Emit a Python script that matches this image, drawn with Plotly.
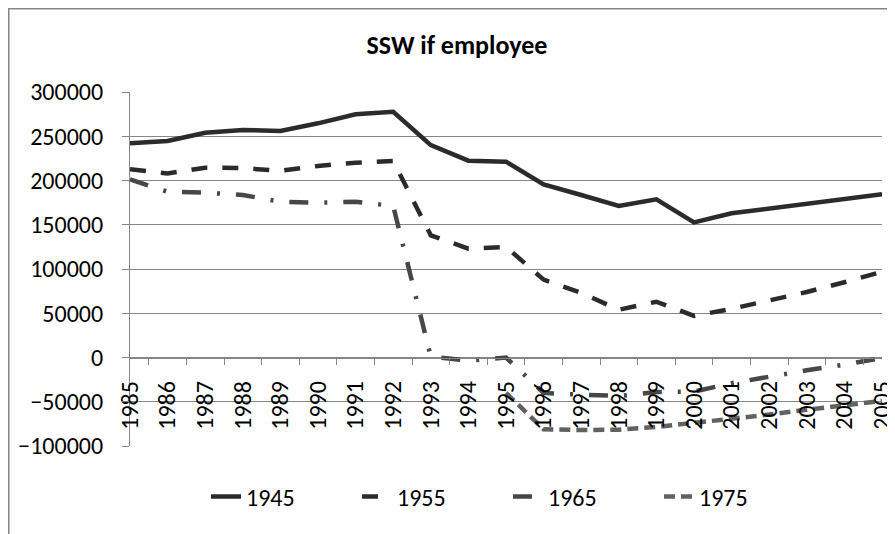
import plotly.graph_objects as go

years = [str(y) for y in range(1985, 2006)]
s1945 = [242000, 244600, 254000, 257000, 256000, 264600, 274800, 277700, 240000, 222400, 221300,
         195700, 183600, 171200, 178700, 152700, 162900, 168000, 173000, 179000, 184400]
s1955 = [212600, 208000, 214500, 214000, 211000, 216400, 220100, 222000, 138000, 123000, 125000,
         88000, 73000, 54000, 63000, 47000, 55000, 64000, 74000, 85000, 97000]
s1965 = [201300, 187300, 186200, 183600, 176000, 175000, 176000, 171200, 1000, -3500, 0,
         -40000, -42000, -43500, -39000, -38500, -29000, -21500, -14500, -8000, -500]
s1975 = [None, None, None, None, None, None, None, None, None, None, -40000,
         -81000, -82000, -81500, -78500, -74000, -69000, -64500, -59000, -54000, -49000]
series_names = ["1945", "1955", "1965", "1975"]
y_ticks = [-100000, -50000, 0, 50000, 100000, 150000, 200000, 250000, 300000]

FONT = "Carlito, Calibri, Lato, sans-serif"
styles = [
    dict(color="#2b2b2b", dash="solid"),
    dict(color="#2b2b2b", dash="16px,15px"),
    dict(color="#474747", dash="19px,16px,3px,16px"),
    dict(color="#616161", dash="11px,6px"),
]

# the page places the figure 8px in from the top-left corner of the window
OFF = 8
W, H = 895 - OFF, 534 - OFF
L, R, T, B = 130 - OFF, 13, 92 - OFF, 88
PW, PH = W - L - R, H - T - B

fig = go.Figure()
for name, vals, st in zip(series_names, [s1945, s1955, s1965, s1975], styles):
    fig.add_trace(go.Scatter(x=years, y=vals, name=name, mode="lines",
                             line=dict(color=st["color"], width=4.5, dash=st["dash"]),
                             connectgaps=False))

fig.update_layout(
    width=W, height=H,
    margin=dict(l=L, r=R, t=T, b=B, autoexpand=False),
    paper_bgcolor="white", plot_bgcolor="white",
    font=dict(family=FONT, size=24, color="black"),
    title=dict(text="<b>SSW if employee</b>", x=(457 - OFF) / W, xref="container", xanchor="center",
               y=1 - (45 - OFF) / H, yref="container", yanchor="middle",
               font=dict(family=FONT, size=26, color="black")),
    showlegend=True,
    legend=dict(orientation="h", xref="paper", yref="paper",
                x=(206 - 130) / PW, y=(446 - 497) / PH, xanchor="left", yanchor="middle",
                entrywidthmode="pixels", entrywidth=106,
                font=dict(family=FONT, size=24, color="black"),
                bgcolor="rgba(0,0,0,0)"),
    xaxis=dict(type="category", anchor="free", position=0.25, automargin=False,
               showline=True, linecolor="#868686", linewidth=1,
               ticks="outside", tickson="boundaries", ticklen=6, tickcolor="#868686",
               tickangle=-90, showgrid=False, zeroline=False,
               ticklabelstandoff=13,
               tickfont=dict(family=FONT, size=24, color="black")),
    yaxis=dict(range=[-100000, 300000], domain=[0, 1], tickvals=y_ticks, automargin=False,
               tickformat="d", showline=True, linecolor="#868686", linewidth=1,
               ticks="outside", ticklen=7, tickcolor="#868686",
               showgrid=True, gridcolor="#868686", gridwidth=1, zeroline=False,
               ticklabelstandoff=14,
               tickfont=dict(family=FONT, size=24, color="black")),
    shapes=[dict(type="rect", xref="paper", yref="paper",
                 x0=(0.75 - L) / PW, x1=1.2, y0=-0.5, y1=1 + (T - 0.75) / PH,
                 line=dict(color="#868686", width=1.5), fillcolor="rgba(0,0,0,0)", layer="below")],
)

fig.write_html("out.html")
